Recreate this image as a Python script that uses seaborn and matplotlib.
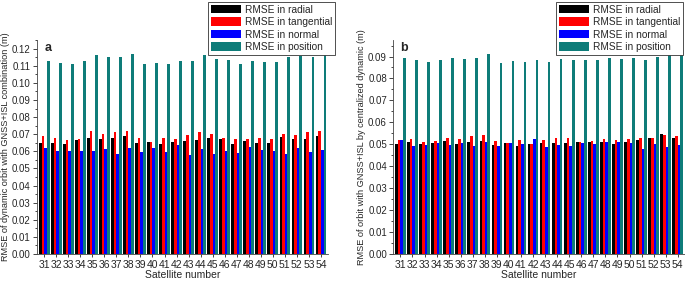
import pandas as pd
import matplotlib
matplotlib.use("Agg")
import matplotlib.pyplot as plt
import seaborn as sns
from matplotlib.ticker import MultipleLocator, FormatStrFormatter

satellites = [str(s) for s in range(31, 55)]

# panel a: dynamic orbit with GNSS+ISL combination
a_radial = [0.0649, 0.0650, 0.0645, 0.0664, 0.0680, 0.0670, 0.0678, 0.0688, 0.0647, 0.0655, 0.0640, 0.0652,
            0.0662, 0.0668, 0.0678, 0.0670, 0.0643, 0.0658, 0.0647, 0.0650, 0.0684, 0.0674, 0.0674, 0.0688]
a_tangential = [0.0688, 0.0676, 0.0668, 0.0672, 0.0720, 0.0700, 0.0714, 0.0720, 0.0676, 0.0655, 0.0680, 0.0672,
                0.0696, 0.0712, 0.0700, 0.0680, 0.0674, 0.0674, 0.0680, 0.0672, 0.0700, 0.0696, 0.0714, 0.0716]
a_normal = [0.0619, 0.0600, 0.0600, 0.0603, 0.0600, 0.0615, 0.0585, 0.0620, 0.0593, 0.0619, 0.0595, 0.0635,
            0.0581, 0.0613, 0.0585, 0.0603, 0.0590, 0.0623, 0.0609, 0.0600, 0.0585, 0.0617, 0.0595, 0.0605]
a_position = [0.1130, 0.1115, 0.1110, 0.1125, 0.1160, 0.1150, 0.1150, 0.1170, 0.1110, 0.1115, 0.1110, 0.1130,
              0.1125, 0.1160, 0.1140, 0.1135, 0.1110, 0.1130, 0.1120, 0.1120, 0.1150, 0.1155, 0.1150, 0.1165]

# panel b: orbit with GNSS+ISL by centralized dynamic
b_radial = [0.0500, 0.0509, 0.0502, 0.0505, 0.0515, 0.0500, 0.0512, 0.0515, 0.0498, 0.0506, 0.0494, 0.0500,
            0.0506, 0.0508, 0.0506, 0.0509, 0.0509, 0.0509, 0.0500, 0.0509, 0.0518, 0.0527, 0.0549, 0.0528]
b_tangential = [0.0521, 0.0524, 0.0512, 0.0515, 0.0530, 0.0526, 0.0538, 0.0544, 0.0514, 0.0505, 0.0518, 0.0503,
                0.0518, 0.0527, 0.0530, 0.0509, 0.0515, 0.0524, 0.0518, 0.0523, 0.0527, 0.0527, 0.0543, 0.0538]
b_normal = [0.0521, 0.0494, 0.0495, 0.0505, 0.0495, 0.0506, 0.0494, 0.0512, 0.0491, 0.0508, 0.0500, 0.0524,
            0.0486, 0.0498, 0.0491, 0.0505, 0.0500, 0.0512, 0.0512, 0.0506, 0.0479, 0.0500, 0.0488, 0.0495]
b_position = [0.0892, 0.0883, 0.0875, 0.0885, 0.0892, 0.0888, 0.0894, 0.0910, 0.0871, 0.0880, 0.0877, 0.0885,
              0.0875, 0.0890, 0.0886, 0.0883, 0.0885, 0.0895, 0.0888, 0.0892, 0.0883, 0.0900, 0.0917, 0.0909]

series = ["RMSE in radial", "RMSE in tangential", "RMSE in normal", "RMSE in position"]
colors = ["#000000", "#ff0000", "#0000ff", "#0e7c79"]


def long_table(radial, tangential, normal, position):
    rows = []
    for name, vals in zip(series, [radial, tangential, normal, position]):
        for sat, v in zip(satellites, vals):
            rows.append({"sat": sat, "series": name, "rmse": v})
    return pd.DataFrame(rows)


df_a = long_table(a_radial, a_tangential, a_normal, a_position)
df_b = long_table(b_radial, b_tangential, b_normal, b_position)

sns.set_style("ticks")
plt.rcParams["font.family"] = ["Liberation Sans", "DejaVu Sans"]

fig = plt.figure(figsize=(6.85, 2.83), dpi=100)
ax_a = fig.add_axes([0.054, 0.1025, 0.425, 0.756])
ax_b = fig.add_axes([0.574, 0.1025, 0.426, 0.756])

panels = [
    (ax_a, df_a, "a", "RMSE of dynamic orbit with GNSS+ISL combination (m)", 0.125, (335, 2)),
    (ax_b, df_b, "b", "RMSE of orbit with GNSS+ISL by centralized dynamic (m)", 0.0975, (683, 2)),
]

for ax, df, tag, ylab, ytop, leg_pos in panels:
    sns.barplot(data=df, x="sat", y="rmse", hue="series", hue_order=series,
                palette=colors, width=0.88, ax=ax, errorbar=None,
                edgecolor="none", linewidth=0, saturation=1)
    ax.set_ylim(0, ytop)
    ax.set_xlim(-0.6, 23.6)
    ax.yaxis.set_major_locator(MultipleLocator(0.01))
    ax.yaxis.set_minor_locator(MultipleLocator(0.005))
    ax.yaxis.set_major_formatter(FormatStrFormatter("%.2f"))
    ax.tick_params(axis="y", which="major", labelsize=7, length=3, width=0.6, pad=1.5)
    ax.tick_params(axis="y", which="minor", length=1.8, width=0.6)
    ax.tick_params(axis="x", labelsize=7.5, length=2, width=0.6, pad=2)
    ax.set_xlabel("Satellite number", fontsize=7.5, labelpad=0)
    ax.set_ylabel(ylab, fontsize=6.6, labelpad=1.5)
    for s in ["top", "right"]:
        ax.spines[s].set_visible(False)
    for s in ["left", "bottom"]:
        ax.spines[s].set_linewidth(0.6)
        ax.spines[s].set_color("#444444")
    ax.text(0.025, 0.99, tag, transform=ax.transAxes, fontsize=9, fontweight="bold",
            va="top", ha="left")
    handles, labels = ax.get_legend_handles_labels()
    ax.get_legend().remove()
    leg = ax.legend(handles, labels, loc="upper right",
                    bbox_to_anchor=(leg_pos[0] / 685, 1 - leg_pos[1] / 283),
                    bbox_transform=fig.transFigure, fontsize=7.3, frameon=True,
                    fancybox=False, edgecolor="#333333", framealpha=1,
                    handlelength=3.0, handleheight=0.9, labelspacing=0.25,
                    borderpad=0.25, handletextpad=0.4, borderaxespad=0)
    leg.get_frame().set_linewidth(0.6)

fig.savefig("out.png", dpi=100)
